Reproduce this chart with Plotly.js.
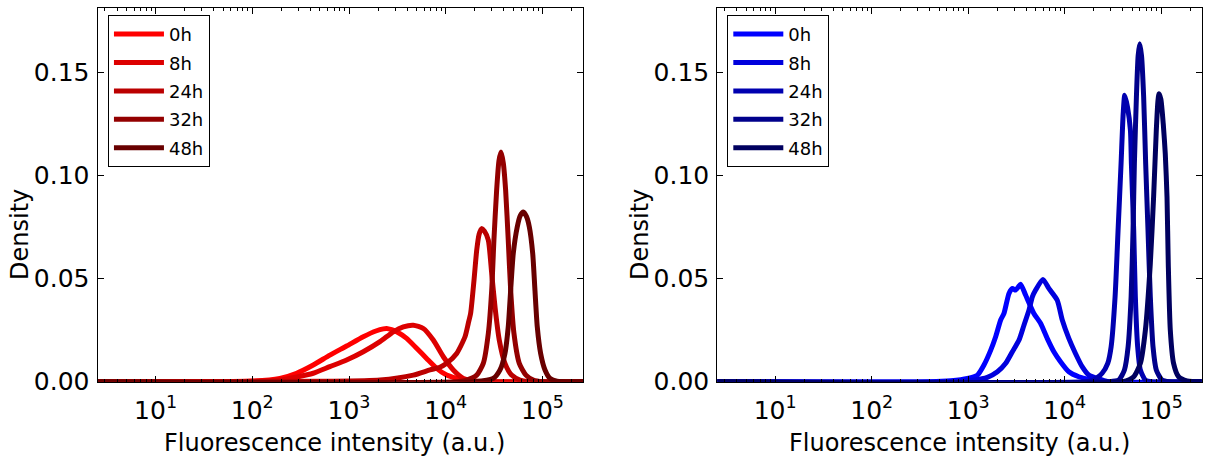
<!DOCTYPE html>
<html>
<head>
<meta charset="utf-8">
<script src="https://cdn.plot.ly/plotly-3.0.1.min.js"></script>
<style>html,body{margin:0;padding:0;background:#fff;}#chart{width:1213px;height:465px;}</style>
</head>
<body>
<div id="chart"></div>
<script>
// Series labels
const timeLabels = ['0h', '8h', '24h', '32h', '48h'];

// X tick positions / labels
const xTickVals = [10, 100, 1000, 10000, 100000];
const xTickText = ['10<sup>1</sup>', '10<sup>2</sup>', '10<sup>3</sup>', '10<sup>4</sup>', '10<sup>5</sup>'];
const yTickVals = [0, 0.05, 0.10, 0.15];
const yTickText = ['0.00', '0.05', '0.10', '0.15'];

// Fluorescence intensity given as log10 exponents, density values
// ---- Left panel (red) ----
const red0hLogX = [0.4, 2.0, 2.285, 2.458, 2.63, 2.802, 2.975, 3.147, 3.285, 3.355, 3.389, 3.44, 3.492, 3.596, 3.699, 3.802, 3.906, 4.009, 4.113, 4.216, 4.4, 5.42];
const red0hY    = [0, 0.0003, 0.0016, 0.0041, 0.0081, 0.0129, 0.0173, 0.0218, 0.0247, 0.0256, 0.0258, 0.0252, 0.0242, 0.0210, 0.0162, 0.0113, 0.0065, 0.0032, 0.0016, 0.0005, 0, 0];

const red8hLogX = [0.4, 2.0, 2.285, 2.63, 2.802, 2.975, 3.147, 3.32, 3.458, 3.561, 3.665, 3.768, 3.871, 3.975, 4.078, 4.182, 4.3, 4.5, 5.42];
const red8hY    = [0, 0.0002, 0.0008, 0.0041, 0.0073, 0.0105, 0.0145, 0.0194, 0.0242, 0.0266, 0.0274, 0.0258, 0.0202, 0.0121, 0.0057, 0.0016, 0.0004, 0, 0];

const red24hLogX = [0.4, 2.8, 3.32, 3.665, 3.837, 3.94, 4.009, 4.113, 4.199, 4.233, 4.257, 4.292, 4.32, 4.345, 4.371, 4.40, 4.44, 4.475, 4.509, 4.553, 4.612, 4.681, 4.767, 4.85, 5.42];
const red24hY    = [0, 0.0002, 0.0008, 0.0032, 0.0057, 0.0070, 0.0089, 0.0137, 0.0218, 0.0283, 0.0331, 0.0492, 0.0637, 0.0715, 0.0742, 0.0730, 0.0686, 0.0525, 0.0363, 0.0202, 0.0089, 0.0032, 0.0008, 0, 0];

const red32hLogX = [0.4, 4.1, 4.216, 4.32, 4.388, 4.44, 4.475, 4.498, 4.526, 4.55, 4.571, 4.595, 4.619, 4.646, 4.671, 4.705, 4.76, 4.829, 4.905, 5.0, 5.42];
const red32hY    = [0, 0, 0.0008, 0.0032, 0.0089, 0.0234, 0.0444, 0.0686, 0.0928, 0.1070, 0.1113, 0.1060, 0.0928, 0.0686, 0.0444, 0.0234, 0.0089, 0.0032, 0.0008, 0, 0];

const red48hLogX = [0.4, 4.3, 4.491, 4.561, 4.612, 4.646, 4.671, 4.698, 4.739, 4.77, 4.802, 4.835, 4.864, 4.899, 4.922, 4.946, 4.981, 5.026, 5.078, 5.15, 5.42];
const red48hY    = [0, 0, 0.0016, 0.0057, 0.0137, 0.0266, 0.0444, 0.0621, 0.0750, 0.0805, 0.0823, 0.0800, 0.0750, 0.0621, 0.0444, 0.0266, 0.0137, 0.0057, 0.0016, 0.0002, 0];

// ---- Right panel (blue) ----
const blue0hLogX = [0.4, 2.6, 2.82, 2.992, 3.095, 3.163, 3.233, 3.284, 3.336, 3.37, 3.422, 3.457, 3.491, 3.52, 3.543, 3.594, 3.68, 3.749, 3.818, 3.887, 3.956, 4.042, 4.145, 4.266, 4.4, 5.42];
const blue0hY    = [0, 0, 0.0005, 0.0016, 0.0032, 0.0081, 0.0153, 0.0218, 0.0299, 0.0331, 0.0428, 0.0452, 0.0444, 0.0460, 0.0473, 0.0420, 0.0331, 0.0283, 0.0210, 0.0145, 0.0097, 0.0048, 0.0024, 0.0010, 0, 0];

const blue8hLogX = [0.4, 2.8, 3.06, 3.198, 3.302, 3.388, 3.457, 3.526, 3.577, 3.629, 3.664, 3.698, 3.773, 3.835, 3.922, 3.974, 4.042, 4.111, 4.18, 4.249, 4.335, 4.45, 5.42];
const blue8hY    = [0, 0, 0.0008, 0.0021, 0.0048, 0.0089, 0.0145, 0.0202, 0.0274, 0.0347, 0.0411, 0.0444, 0.0496, 0.0452, 0.0395, 0.0299, 0.0210, 0.0137, 0.0073, 0.0032, 0.0016, 0, 0];

const blue24hLogX = [0.4, 4.2, 4.3, 4.387, 4.445, 4.48, 4.521, 4.552, 4.583, 4.605, 4.621, 4.65, 4.68, 4.69, 4.714, 4.731, 4.755, 4.783, 4.835, 4.9, 5.42];
const blue24hY    = [0, 0, 0.0008, 0.0041, 0.0089, 0.0169, 0.0411, 0.0734, 0.1057, 0.1300, 0.1388, 0.1330, 0.1218, 0.1057, 0.0734, 0.0411, 0.0169, 0.0057, 0.0008, 0, 0];

const blue32hLogX = [0.4, 4.45, 4.559, 4.618, 4.656, 4.687, 4.707, 4.721, 4.742, 4.76, 4.776, 4.795, 4.817, 4.838, 4.862, 4.886, 4.914, 4.948, 5.007, 5.08, 5.42];
const blue32hY    = [0, 0, 0.0008, 0.0057, 0.0169, 0.0411, 0.0734, 0.1057, 0.1380, 0.1580, 0.1638, 0.1580, 0.1380, 0.1057, 0.0734, 0.0411, 0.0169, 0.0057, 0.0008, 0, 0];

const blue48hLogX = [0.4, 4.6, 4.714, 4.783, 4.835, 4.886, 4.92, 4.948, 4.965, 4.976, 4.995, 5.02, 5.041, 5.059, 5.072, 5.093, 5.127, 5.179, 5.266, 5.42];
const blue48hY    = [0, 0, 0.0024, 0.0089, 0.0250, 0.0573, 0.0895, 0.1218, 0.1360, 0.1396, 0.1370, 0.1250, 0.1105, 0.0895, 0.0573, 0.0250, 0.0089, 0.0024, 0.0004, 0];

const xAxisTitle = 'Fluorescence intensity (a.u.)';
const yAxisTitle = 'Density';

const redColors  = ['#ff0000', '#dd0000', '#bb0000', '#930000', '#680000'];
const blueColors = ['#0000ff', '#0000dd', '#0000b0', '#00008b', '#00005f'];

const redSeries  = [[red0hLogX, red0hY], [red8hLogX, red8hY], [red24hLogX, red24hY], [red32hLogX, red32hY], [red48hLogX, red48hY]];
const blueSeries = [[blue0hLogX, blue0hY], [blue8hLogX, blue8hY], [blue24hLogX, blue24hY], [blue32hLogX, blue32hY], [blue48hLogX, blue48hY]];

const toIntensity = arr => arr.map(e => Math.pow(10, e));

const traces = [];
redSeries.forEach((s, i) => traces.push({
  type: 'scatter', mode: 'lines', name: timeLabels[i],
  x: toIntensity(s[0]), y: s[1], xaxis: 'x', yaxis: 'y', legend: 'legend', legendgroup: 'r' + i,
  line: {color: redColors[i], width: 5, shape: 'spline', smoothing: 0.6}
}));
blueSeries.forEach((s, i) => traces.push({
  type: 'scatter', mode: 'lines', name: timeLabels[i],
  x: toIntensity(s[0]), y: s[1], xaxis: 'x2', yaxis: 'y2', legend: 'legend2', legendgroup: 'b' + i,
  line: {color: blueColors[i], width: 5, shape: 'spline', smoothing: 0.6}
}));

const tickFont = {family: 'DejaVu Sans', size: 25, color: '#000'};
const xBase = {
  type: 'log', range: [0.4, 5.4185], tickmode: 'array', tickvals: xTickVals, ticktext: xTickText,
  showgrid: false, zeroline: false, showline: true, linecolor: '#000', linewidth: 1,
  mirror: 'allticks', ticks: 'inside', ticklen: 6, tickwidth: 1, tickcolor: '#000',
  minor: {ticks: 'inside', ticklen: 3, tickwidth: 1, tickcolor: '#000', dtick: 'D1', showgrid: false},
  tickfont: tickFont, ticklabelstandoff: 6
};
const yBase = {
  range: [0, 0.181], tickmode: 'array', tickvals: yTickVals, ticktext: yTickText,
  showgrid: false, zeroline: false, showline: true, linecolor: '#000', linewidth: 1,
  mirror: 'ticks', ticks: 'inside', ticklen: 6, tickwidth: 1, tickcolor: '#000',
  tickfont: tickFont, ticklabelstandoff: 2
};
const legendBase = {
  yanchor: 'top', xanchor: 'left', y: 0.968, tracegroupgap: 2,
  bgcolor: '#fff', bordercolor: '#000', borderwidth: 1,
  font: {family: 'DejaVu Sans', size: 18, color: '#000'}, itemwidth: 50
};
const titleFont = {family: 'DejaVu Sans', size: 24, color: '#000'};

const layout = {
  width: 1213, height: 465,
  margin: {l: 0, r: 0, t: 0, b: 0},
  paper_bgcolor: '#fff', plot_bgcolor: '#fff',
  showlegend: true,
  xaxis:  Object.assign({}, xBase, {domain: [0.0804, 0.4806], anchor: 'y'}),
  yaxis:  Object.assign({}, yBase, {domain: [0.1791, 0.9822], anchor: 'x'}),
  xaxis2: Object.assign({}, xBase, {domain: [0.5913, 0.9907], anchor: 'y2'}),
  yaxis2: Object.assign({}, yBase, {domain: [0.1791, 0.9822], anchor: 'x2'}),
  legend:  Object.assign({}, legendBase, {x: 0.089}),
  legend2: Object.assign({}, legendBase, {x: 0.5996}),
  annotations: [
    {text: xAxisTitle, xref: 'paper', yref: 'paper', x: 335/1213, y: 1 - 443/465, xanchor: 'center', yanchor: 'middle', showarrow: false, font: titleFont},
    {text: xAxisTitle, xref: 'paper', yref: 'paper', x: 959/1213, y: 1 - 443/465, xanchor: 'center', yanchor: 'middle', showarrow: false, font: titleFont},
    {text: yAxisTitle, xref: 'paper', yref: 'paper', x: 20/1213, y: 1 - 235/465, xanchor: 'center', yanchor: 'middle', textangle: -90, showarrow: false, font: titleFont},
    {text: yAxisTitle, xref: 'paper', yref: 'paper', x: 640/1213, y: 1 - 235/465, xanchor: 'center', yanchor: 'middle', textangle: -90, showarrow: false, font: titleFont}
  ]
};

Plotly.newPlot('chart', traces, layout, {displayModeBar: false, staticPlot: true});
</script>
</body>
</html>
